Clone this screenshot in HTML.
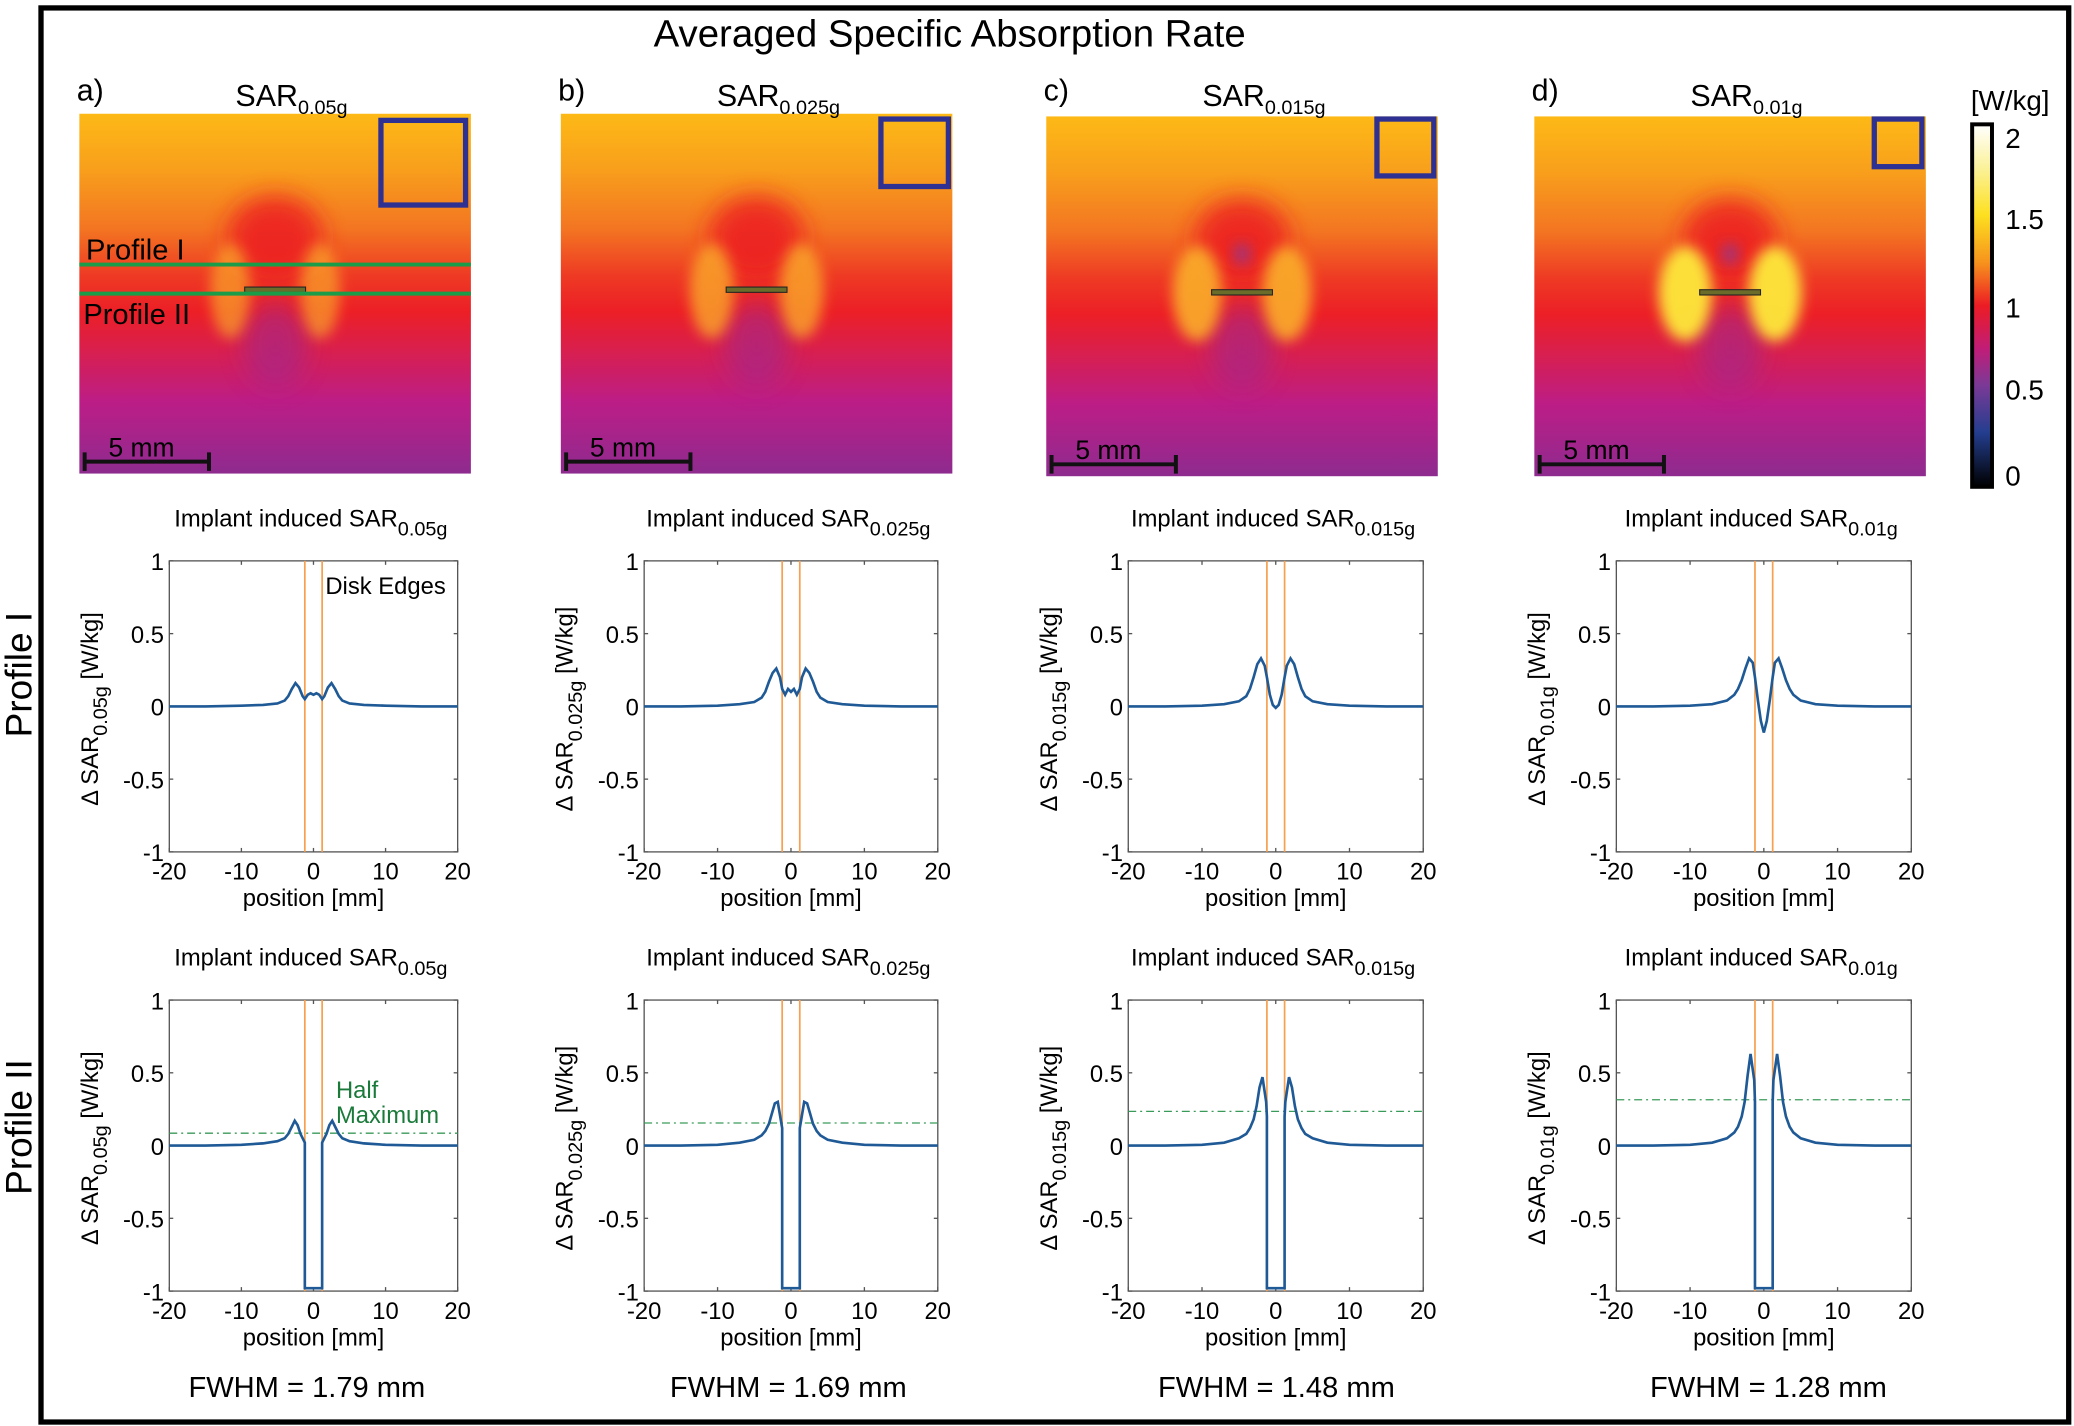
<!DOCTYPE html>
<html><head><meta charset="utf-8"><style>
html,body{margin:0;padding:0;background:#fff;}
svg{display:block;font-family:"Liberation Sans",sans-serif;}
</style></head><body>
<svg id="fig" width="2074" height="1426" viewBox="0 0 1568 1078" preserveAspectRatio="none" xmlns="http://www.w3.org/2000/svg">
<defs>
<linearGradient id="bg" x1="0" y1="0" x2="0" y2="1">
<stop offset="0" stop-color="#fdb916"/><stop offset="0.15" stop-color="#f8a01c"/><stop offset="0.32" stop-color="#f37522"/><stop offset="0.45" stop-color="#ee3a24"/><stop offset="0.55" stop-color="#ec1f26"/><stop offset="0.66" stop-color="#d81f4f"/><stop offset="0.8" stop-color="#bc1d86"/><stop offset="1" stop-color="#8e2b8f"/>
</linearGradient>
<linearGradient id="cb" x1="0" y1="0" x2="0" y2="1">
<stop offset="0" stop-color="#ffffff"/><stop offset="0.12" stop-color="#fbf29a"/><stop offset="0.25" stop-color="#fde020"/><stop offset="0.38" stop-color="#f7941d"/><stop offset="0.5" stop-color="#ec1c24"/><stop offset="0.62" stop-color="#c01d78"/><stop offset="0.72" stop-color="#7a3a96"/><stop offset="0.85" stop-color="#243e8f"/><stop offset="1" stop-color="#000000"/>
</linearGradient>
<filter id="blur" x="-50%" y="-50%" width="200%" height="200%"><feGaussianBlur stdDeviation="9"/></filter>
<filter id="blur2" x="-50%" y="-50%" width="200%" height="200%"><feGaussianBlur stdDeviation="5"/></filter>
</defs>
<rect x="31" y="6" width="1533" height="1069" fill="none" stroke="#000" stroke-width="4"/>
<text x="718" y="35" font-size="29" text-anchor="middle">Averaged Specific Absorption Rate</text>
<g id="maps"></g>
<g id="plots"></g>
<g>
<rect x="1491" y="94" width="15" height="274" fill="url(#cb)" stroke="#000" stroke-width="3"/>
<text x="1490" y="83" font-size="21">[W/kg]</text>
<text x="1516" y="112" font-size="21">2</text>
<text x="1516" y="173" font-size="21">1.5</text>
<text x="1516" y="240" font-size="21">1</text>
<text x="1516" y="302" font-size="21">0.5</text>
<text x="1516" y="367" font-size="21">0</text>
</g>
<text transform="translate(24,510) rotate(-90)" font-size="28" text-anchor="middle">Profile I</text>
<text transform="translate(24,852) rotate(-90)" font-size="28" text-anchor="middle">Profile II</text>
</svg>
<script>
const NS="http://www.w3.org/2000/svg";
const subs=["0.05g","0.025g","0.015g","0.01g"];
const letters=["a)","b)","c)","d)"];
const fwhm=["FWHM = 1.79 mm","FWHM = 1.69 mm","FWHM = 1.48 mm","FWHM = 1.28 mm"];
const yTicks=[-1,-0.5,0,0.5,1];
const yTickLabels=["-1","-0.5","0","0.5","1"];
const xTicks=[-20,-10,0,10,20];
const xTickLabels=["-20","-10","0","10","20"];
const diskEdges=[-1.2,1.2];
const pos1=[-20,-15,-10,-7,-5,-4,-3.5,-3,-2.5,-2,-1.5,-1.2,-0.8,-0.4,0,0.4,0.8,1.2,1.5,2,2.5,3,3.5,4,5,7,10,15,20];
const p1a=[0,0,0.005,0.01,0.02,0.04,0.07,0.12,0.16,0.13,0.07,0.05,0.08,0.09,0.08,0.09,0.08,0.05,0.07,0.13,0.16,0.12,0.07,0.04,0.02,0.01,0.005,0,0];
const p1b=[0,0,0.005,0.015,0.03,0.06,0.1,0.17,0.23,0.26,0.2,0.12,0.08,0.12,0.1,0.12,0.08,0.12,0.2,0.26,0.23,0.17,0.1,0.06,0.03,0.015,0.005,0,0];
const p1c=[0,0,0.005,0.015,0.035,0.07,0.12,0.2,0.29,0.33,0.28,0.2,0.08,0.01,-0.01,0.01,0.08,0.2,0.28,0.33,0.29,0.2,0.12,0.07,0.035,0.015,0.005,0,0];
const p1d=[0,0,0.005,0.015,0.04,0.08,0.12,0.18,0.26,0.33,0.3,0.2,0.04,-0.1,-0.18,-0.1,0.04,0.2,0.3,0.33,0.26,0.18,0.12,0.08,0.04,0.015,0.005,0,0];
const pos2=[-20,-15,-10,-7,-5,-4,-3.5,-3,-2.6,-2.2,-1.8,-1.3,-1.2,-1.2,1.2,1.2,1.3,1.8,2.2,2.6,3,3.5,4,5,7,10,15,20];
const p2a=[0,0,0.005,0.015,0.03,0.05,0.08,0.13,0.17,0.14,0.08,0.03,0.02,-0.98,-0.98,0.02,0.03,0.08,0.14,0.17,0.13,0.08,0.05,0.03,0.015,0.005,0,0];
const p2b=[0,0,0.005,0.02,0.04,0.07,0.1,0.15,0.22,0.29,0.3,0.15,0.12,-0.98,-0.98,0.12,0.15,0.3,0.29,0.22,0.15,0.1,0.07,0.04,0.02,0.005,0,0];
const p2c=[0,0,0.005,0.02,0.05,0.08,0.12,0.18,0.27,0.4,0.47,0.3,0.2,-0.98,-0.98,0.2,0.3,0.47,0.4,0.27,0.18,0.12,0.08,0.05,0.02,0.005,0,0];
const p2d=[0,0,0.005,0.02,0.05,0.09,0.13,0.2,0.3,0.48,0.63,0.45,0.3,-0.98,-0.98,0.3,0.45,0.63,0.48,0.3,0.2,0.13,0.09,0.05,0.02,0.005,0,0];
const halfMax=[0.085,0.155,0.235,0.315];
const row1=[p1a,p1b,p1c,p1d];
const row2=[p2a,p2b,p2c,p2d];
const colX=[[128,346],[487,709],[853,1076],[1222,1445]];
const rowY=[[424,644],[756,976]];
const mapBoxes=[[60,86],[424,86],[791,88],[1160,88]];
const mapW=296,mapH=272;
const sq=[[286,89,68],[664,88,55],[1039,88,47],[1415,88,40]];
const blobs=[0.35,0.55,0.8,1.0];

function el(tag,attrs,parent,text){const e=document.createElementNS(NS,tag);for(const k in attrs)e.setAttribute(k,attrs[k]);if(text!==undefined)e.textContent=text;parent.appendChild(e);return e;}
const maps=document.getElementById('maps');
mapBoxes.forEach((b,i)=>{
  const g=el('g',{},maps);
  
  
  const [x,y]=b;const cx=x+mapW/2, cy=y+134;
  const cp=el('clipPath',{id:'cp'+i},g);el('rect',{x,y,width:mapW,height:mapH},cp);
  el('rect',{x,y,width:mapW,height:mapH,fill:'url(#bg)'},g);
  const gg=el('g',{'clip-path':'url(#cp'+i+')'},g);
  const s=blobs[i];
  el('ellipse',{cx,cy:cy-40,rx:36,ry:32,fill:'#ec1c24',opacity:0.85,filter:'url(#blur)'},gg);
  el('ellipse',{cx,cy:cy+40,rx:24,ry:32,fill:'#a0288f',opacity:0.6,filter:'url(#blur)'},gg);
  el('ellipse',{cx:cx-34,cy:cy,rx:12+8*s,ry:36,fill:s>0.9?'#fde93a':'#fbb62a',opacity:0.45+0.5*s,filter:'url(#blur2)'},gg);
  el('ellipse',{cx:cx+34,cy:cy,rx:12+8*s,ry:36,fill:s>0.9?'#fde93a':'#fbb62a',opacity:0.45+0.5*s,filter:'url(#blur2)'},gg);
  if(i>=2){el('ellipse',{cx,cy:cy-30,rx:6,ry:8,fill:'#8a3a96',opacity:0.8,filter:'url(#blur2)'},gg);}
  el('rect',{x:cx-23,y:cy-3,width:46,height:4,fill:'#6b6b2a',stroke:'#222','stroke-width':0.8},g);
  el('rect',{x:sq[i][0]+2,y:sq[i][1]+2,width:sq[i][2]-4,height:sq[i][2]-4,fill:'none',stroke:'#2e3192','stroke-width':4},g);
  el('path',{d:`M${x+4} ${y+263}H${x+98}M${x+4} ${y+256}V${y+270}M${x+98} ${y+256}V${y+270}`,stroke:'#111','stroke-width':3,fill:'none'},g);
  el('text',{x:x+22,y:y+259,'font-size':20},g,'5 mm');
  const lt=el('text',{x:x-2,y:76,'font-size':23},maps,letters[i]);
  
  
  const tt=el('text',{x:x+118,y:80,'font-size':23},maps);
  
  
  tt.appendChild(document.createTextNode('SAR'));
  el('tspan',{dy:6,'font-size':15},tt,subs[i]);
});
el('line',{x1:60,x2:356,y1:200,y2:200,stroke:'#1a9c48','stroke-width':3},maps);
el('line',{x1:60,x2:356,y1:222,y2:222,stroke:'#1a9c48','stroke-width':3},maps);
el('text',{x:65,y:196,'font-size':22},maps,'Profile I');
el('text',{x:63,y:245,'font-size':22},maps,'Profile II');

const plots=document.getElementById('plots');
function drawPlot(ci,ri,vals,xs){
  const [x0,x1]=colX[ci],[y0,y1]=rowY[ri];
  const sx=v=>x0+(v+20)/40*(x1-x0);
  const sy=v=>y1-(v+1)/2*(y1-y0);
  const g=el('g',{},plots);
  
  
  el('rect',{x:x0,y:y0,width:x1-x0,height:y1-y0,fill:'#fff',stroke:'#555','stroke-width':1},g);
  yTicks.forEach((t,k)=>{
    el('line',{x1:x0,x2:x0+3,y1:sy(t),y2:sy(t),stroke:'#555'},g);
    el('line',{x1:x1,x2:x1-3,y1:sy(t),y2:sy(t),stroke:'#555'},g);
    el('text',{x:x0-4,y:sy(t)+7,'font-size':18,'text-anchor':'end'},g,yTickLabels[k]);
  });
  xTicks.forEach((t,k)=>{
    el('line',{x1:sx(t),x2:sx(t),y1:y1,y2:y1-3,stroke:'#555'},g);
    el('line',{x1:sx(t),x2:sx(t),y1:y0,y2:y0+3,stroke:'#555'},g);
    el('text',{x:sx(t),y:y1+21,'font-size':18,'text-anchor':'middle'},g,xTickLabels[k]);
  });
  diskEdges.forEach(d=>{const l=el('line',{x1:sx(d),x2:sx(d),y1:y0,y2:y1,stroke:'#f7a050','stroke-width':1.3},g);
    });
  if(ri===1){const h=el('line',{x1:x0,x2:x1,y1:sy(halfMax[ci]),y2:sy(halfMax[ci]),stroke:'#3a9a5a','stroke-width':1,'stroke-dasharray':'6 3 1.5 3'},g);
    }
  const p=el('path',{d:xs.map((v,k)=>(k?'L':'M')+sx(v).toFixed(2)+' '+sy(vals[k]).toFixed(2)).join(''),fill:'none',stroke:'#1f5a96','stroke-width':2},g);
  
  
  const cx=(x0+x1)/2;
  const t=el('text',{x:cx-2,y:y0-26,'font-size':18,'text-anchor':'middle'},g);
  t.appendChild(document.createTextNode('Implant induced SAR'));
  el('tspan',{dy:7,'font-size':15},t,subs[ci]);
  el('text',{x:cx,y:y1+41,'font-size':18,'text-anchor':'middle'},g,'position [mm]');
  const yl=el('text',{transform:`translate(${x0-54},${(y0+y1)/2+2}) rotate(-90)`,'font-size':18,'text-anchor':'middle'},g);
  yl.appendChild(document.createTextNode('Δ SAR'));
  el('tspan',{dy:7,'font-size':15},yl,subs[ci]);
  el('tspan',{dy:-7,'font-size':18},yl,' [W/kg]');
}
row1.forEach((v,i)=>drawPlot(i,0,v,pos1));
row2.forEach((v,i)=>drawPlot(i,1,v,pos2));
el('text',{x:246,y:449,'font-size':18},plots,'Disk Edges');
el('text',{x:254,y:830,'font-size':18,fill:'#1a7a3a'},plots,'Half');
el('text',{x:254,y:849,'font-size':18,fill:'#1a7a3a'},plots,'Maximum');
const fx=[232,596,965,1337];
fwhm.forEach((f,i)=>{const t=el('text',{x:fx[i],y:1056,'font-size':22,'text-anchor':'middle'},plots,f);
  });
</script>
</body></html>
